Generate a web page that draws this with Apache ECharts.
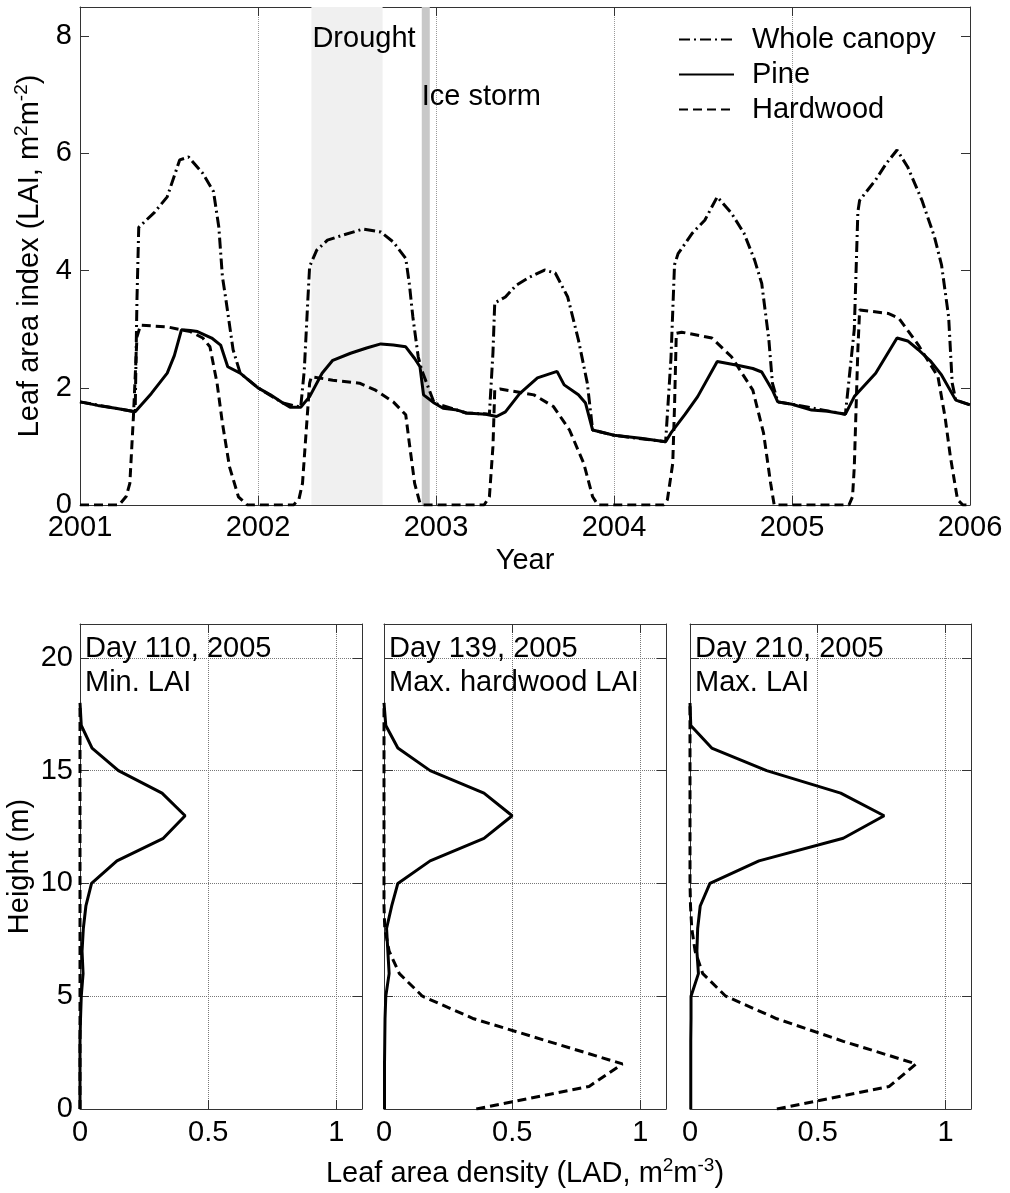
<!DOCTYPE html>
<html>
<head>
  <meta charset="utf-8">
  <title>LAI time series and LAD profiles</title>
  <style>
    html, body { margin: 0; padding: 0; background: #fff; }
    #main { width: 1010px; height: 1193px; }
  </style>
</head>
<body>
  <div id="main"></div>
  <script src="https://cdn.jsdelivr.net/npm/echarts@6/dist/echarts.min.js"></script>
  <script>
    // ---- top panel: LAI time series, [year, LAI] ----
    const wholeCanopy = [
      [2001.00, 1.76], [2001.31, 1.59], [2001.32, 3.5], [2001.33, 4.74], [2001.42, 5.0], [2001.49, 5.26],
      [2001.56, 5.89], [2001.61, 5.94], [2001.69, 5.66], [2001.75, 5.35], [2001.78, 4.74], [2001.80, 3.9],
      [2001.82, 3.5], [2001.86, 2.65], [2001.90, 2.25], [2002.00, 2.00], [2002.14, 1.74], [2002.24, 1.67],
      [2002.26, 2.3], [2002.28, 3.5], [2002.29, 4.07], [2002.33, 4.35], [2002.39, 4.52], [2002.48, 4.61],
      [2002.59, 4.71], [2002.69, 4.66], [2002.76, 4.49], [2002.83, 4.21], [2002.85, 3.78], [2002.87, 3.21],
      [2002.90, 2.53], [2002.92, 2.30], [2002.99, 1.74], [2003.17, 1.57], [2003.30, 1.55], [2003.32, 2.6],
      [2003.33, 3.45], [2003.39, 3.55], [2003.45, 3.75], [2003.52, 3.88], [2003.61, 4.01], [2003.67, 3.96],
      [2003.74, 3.55], [2003.80, 2.82], [2003.85, 2.08], [2003.88, 1.28], [2004.00, 1.19], [2004.29, 1.08],
      [2004.32, 2.5], [2004.34, 4.1], [2004.36, 4.29], [2004.44, 4.64], [2004.51, 4.86], [2004.58, 5.26],
      [2004.66, 4.98], [2004.73, 4.64], [2004.79, 4.18], [2004.83, 3.78], [2004.87, 2.82], [2004.89, 2.08],
      [2004.92, 1.76], [2005.00, 1.72], [2005.30, 1.55], [2005.35, 3.0], [2005.37, 5.0], [2005.38, 5.2],
      [2005.47, 5.55], [2005.53, 5.83], [2005.59, 6.06], [2005.65, 5.77], [2005.73, 5.2], [2005.80, 4.58],
      [2005.84, 4.1], [2005.88, 3.21], [2005.90, 2.08], [2005.92, 1.79], [2006.00, 1.71]
    ];
    const pineLAI = [
      [2001.00, 1.76], [2001.10, 1.70], [2001.20, 1.65], [2001.31, 1.59], [2001.40, 1.90], [2001.49, 2.25],
      [2001.53, 2.55], [2001.57, 2.99], [2001.62, 2.98], [2001.66, 2.96], [2001.74, 2.85], [2001.79, 2.73],
      [2001.83, 2.36], [2001.90, 2.25], [2002.00, 2.00], [2002.07, 1.88], [2002.14, 1.74], [2002.18, 1.67],
      [2002.24, 1.67], [2002.29, 1.85], [2002.36, 2.25], [2002.42, 2.47], [2002.52, 2.59], [2002.61, 2.68],
      [2002.69, 2.75], [2002.76, 2.73], [2002.83, 2.70], [2002.88, 2.50], [2002.91, 2.36], [2002.93, 1.88],
      [2002.99, 1.74], [2003.04, 1.65], [2003.12, 1.62], [2003.17, 1.57], [2003.28, 1.55], [2003.34, 1.51],
      [2003.39, 1.59], [2003.47, 1.90], [2003.57, 2.17], [2003.68, 2.28], [2003.72, 2.05], [2003.80, 1.88],
      [2003.84, 1.74], [2003.88, 1.28], [2004.00, 1.19], [2004.15, 1.14], [2004.29, 1.08], [2004.32, 1.23],
      [2004.40, 1.55], [2004.47, 1.85], [2004.58, 2.45], [2004.70, 2.38], [2004.78, 2.33], [2004.83, 2.27],
      [2004.89, 1.96], [2004.92, 1.76], [2005.00, 1.72], [2005.11, 1.62], [2005.20, 1.60], [2005.30, 1.55],
      [2005.35, 1.85], [2005.47, 2.25], [2005.59, 2.85], [2005.65, 2.80], [2005.71, 2.65], [2005.78, 2.45],
      [2005.84, 2.22], [2005.92, 1.79], [2006.00, 1.71]
    ];
    const hardwoodLAI = [
      [2001.00, 0], [2001.22, 0], [2001.26, 0.15], [2001.28, 0.37], [2001.30, 1.5], [2001.32, 2.87],
      [2001.34, 3.07], [2001.49, 3.04], [2001.62, 2.96], [2001.69, 2.85], [2001.73, 2.7], [2001.77, 2.08],
      [2001.80, 1.4], [2001.84, 0.65], [2001.89, 0.14], [2001.94, 0], [2002.20, 0], [2002.23, 0.1],
      [2002.25, 0.37], [2002.27, 1.23], [2002.29, 2.08], [2002.30, 2.19], [2002.42, 2.13], [2002.57, 2.08],
      [2002.66, 1.96], [2002.76, 1.76], [2002.83, 1.54], [2002.85, 1.06], [2002.88, 0.37], [2002.91, 0.03],
      [2002.93, 0], [2003.27, 0], [2003.30, 0.14], [2003.32, 1.0], [2003.33, 1.96], [2003.36, 1.98],
      [2003.55, 1.88], [2003.66, 1.68], [2003.75, 1.28], [2003.83, 0.71], [2003.88, 0.14], [2003.91, 0],
      [2004.28, 0], [2004.30, 0.09], [2004.33, 0.71], [2004.34, 1.68], [2004.35, 2.93], [2004.38, 2.95],
      [2004.55, 2.85], [2004.66, 2.53], [2004.78, 1.96], [2004.84, 1.23], [2004.88, 0.37], [2004.90, 0],
      [2005.32, 0], [2005.34, 0.14], [2005.35, 0.65], [2005.37, 2.65], [2005.38, 3.33], [2005.54, 3.27],
      [2005.60, 3.19], [2005.71, 2.73], [2005.82, 2.19], [2005.86, 1.5], [2005.89, 0.82], [2005.93, 0.09],
      [2005.96, 0], [2006.00, 0]
    ];
    const droughtPeriod = [2002.30, 2002.70];
    const iceStormPeriod = [2002.92, 2002.965];

    // ---- bottom panels: LAD profiles at heights 0..18 m ----
    const heights = [0, 1, 2, 3, 4, 5, 6, 7, 8, 9, 10, 11, 12, 13, 14, 15, 16, 17, 18];
    const pineDay110 = [0, 0, 0, 0, 0.002, 0.005, 0.012, 0.008, 0.013, 0.023, 0.045, 0.144, 0.325, 0.41, 0.32, 0.15, 0.047, 0.005, 0];
    const hardDay110 = [0, 0, 0, 0, 0, 0, 0, 0, 0, 0, 0, 0, 0, 0, 0, 0, 0, 0, 0];
    const pineDay139 = [0.002, 0.002, 0.002, 0.003, 0.004, 0.007, 0.02, 0.015, 0.01, 0.03, 0.054, 0.18, 0.39, 0.50, 0.39, 0.18, 0.054, 0.007, 0];
    const hardDay139 = [0.36, 0.80, 0.93, 0.64, 0.35, 0.15, 0.06, 0.02, 0.003, 0, 0, 0, 0, 0, 0, 0, 0, 0, 0];
    const pineDay210 = [0.003, 0.003, 0.003, 0.003, 0.004, 0.004, 0.033, 0.027, 0.03, 0.04, 0.078, 0.27, 0.60, 0.76, 0.59, 0.30, 0.085, 0.003, 0];
    const hardDay210 = [0.34, 0.78, 0.885, 0.60, 0.34, 0.14, 0.05, 0.02, 0.007, 0.002, 0, 0, 0, 0, 0, 0, 0, 0, 0];
    const panelTitles = ['Day 110, 2005\nMin. LAI', 'Day 139, 2005\nMax. hardwood LAI', 'Day 210, 2005\nMax. LAI'];

    const FONT = '"Liberation Sans", Arial, Helvetica, sans-serif';
    const FS = 29;
    const AXIS_COLOR = '#333';

    const SOLID = { color: '#000', width: 3, type: 'solid' };
    const DASHED = { color: '#000', width: 3, type: [9, 5] };
    const DASHDOT = { color: '#000', width: 3, type: [11, 4, 2, 4] };

    function profile(values) {
      return values.map(function (v, i) { return [v, heights[i]]; });
    }

    const grids = [
      { left: 80, top: 7, width: 890, height: 498 },
      { left: 80, top: 624, width: 282, height: 485 },
      { left: 384, top: 624, width: 282, height: 485 },
      { left: 690, top: 624, width: 281, height: 485 }
    ].map(function (g) { return Object.assign({ outerBoundsMode: 'none', containLabel: false }, g); });

    function axis(gridIndex, position, range, interval, opts) {
      const main = position === 'bottom' || position === 'left';
      return Object.assign({
        type: 'value',
        gridIndex: gridIndex,
        position: position,
        min: range[0],
        max: range[1],
        interval: interval,
        axisLine: { show: true, onZero: false, lineStyle: { color: AXIS_COLOR, width: 1 } },
        axisTick: { show: true, inside: true, length: 9, lineStyle: { color: AXIS_COLOR, width: 1 } },
        axisLabel: {
          show: main, showMaxLabel: false, margin: 8,
          fontSize: FS, fontFamily: FONT, color: '#000'
        },
        splitLine: { show: false },
        nameTextStyle: { fontSize: FS, fontFamily: FONT, color: '#000' }
      }, opts || {});
    }

    // superscripts: small text pinned to the top of a taller line
    const supRich = {
      n: { fontSize: FS, fontFamily: FONT, color: '#000', lineHeight: 36 },
      s: { fontSize: 19, fontFamily: FONT, color: '#000', verticalAlign: 'top', lineHeight: 8 }
    };

    const xAxes = [
      axis(0, 'bottom', [2001, 2006], 1, {
        axisLabel: { margin: 8, fontSize: FS, fontFamily: FONT, color: '#000', formatter: function (v) { return String(v); } },
        splitLine: { show: true, lineStyle: { color: '#999', type: 'dotted', width: 1 } },
        name: 'Year', nameLocation: 'middle', nameGap: 41
      }),
      axis(0, 'top', [2001, 2006], 1)
    ];
    const yAxes = [
      axis(0, 'left', [0, 8.5], 2, {
        name: '{n|Leaf area index (LAI, m}{s|2}{n|m}{s|-2}{n|)}',
        nameLocation: 'middle', nameGap: 27,
        nameTextStyle: { rich: supRich }
      }),
      axis(0, 'right', [0, 8.5], 2)
    ];
    for (let p = 1; p <= 3; p++) {
      const grid = { show: true, lineStyle: { color: '#777', type: 'dotted', width: 1 } };
      const xb = axis(p, 'bottom', [0, 1.1], 0.5, { splitLine: grid });
      xb.axisLabel.margin = 9;
      if (p === 2) {
        xb.name = '{n|Leaf area density (LAD, m}{s|2}{n|m}{s|-3}{n|)}';
        xb.nameLocation = 'middle';
        xb.nameGap = 47;
        xb.nameTextStyle = { rich: supRich };
      }
      xAxes.push(xb, axis(p, 'top', [0, 1.1], 0.5));
      const yl = axis(p, 'left', [0, 21.5], 5, { splitLine: grid });
      yl.axisLabel.show = p === 1;
      yl.axisLabel.margin = 7;
      if (p === 1) {
        yl.name = 'Height (m)';
        yl.nameLocation = 'middle';
        yl.nameGap = 46;
      }
      yAxes.push(yl, axis(p, 'right', [0, 21.5], 5));
    }

    const areaLabel = { show: true, position: 'insideTopLeft', distance: 0, fontSize: FS, fontFamily: FONT, color: '#000' };

    const series = [
      {
        name: 'periods', type: 'line', xAxisIndex: 0, yAxisIndex: 0, data: [], z: 1, silent: true,
        markArea: {
          silent: true,
          data: [
            [{ name: 'Drought', xAxis: droughtPeriod[0], itemStyle: { color: '#f0f0f0', opacity: 1 },
               label: Object.assign({}, areaLabel, { offset: [1, 17] }) },
             { xAxis: droughtPeriod[1] }],
            [{ name: 'Ice storm', xAxis: iceStormPeriod[0], itemStyle: { color: '#c8c8c8', opacity: 1 },
               label: Object.assign({}, areaLabel, { offset: [0, 75] }) },
             { xAxis: iceStormPeriod[1] }]
          ]
        }
      },
      { name: 'Whole canopy', type: 'line', xAxisIndex: 0, yAxisIndex: 0, data: wholeCanopy,
        symbol: 'none', lineStyle: DASHDOT, itemStyle: { color: '#000' }, z: 3 },
      { name: 'Hardwood', type: 'line', xAxisIndex: 0, yAxisIndex: 0, data: hardwoodLAI,
        symbol: 'none', lineStyle: DASHED, itemStyle: { color: '#000' }, z: 4 },
      { name: 'Pine', type: 'line', xAxisIndex: 0, yAxisIndex: 0, data: pineLAI,
        symbol: 'none', lineStyle: SOLID, itemStyle: { color: '#000' }, z: 5 }
    ];

    const profiles = [[pineDay110, hardDay110], [pineDay139, hardDay139], [pineDay210, hardDay210]];
    profiles.forEach(function (pair, i) {
      const axisIdx = 2 + i * 2;
      series.push(
        { name: 'Hardwood', type: 'line', xAxisIndex: axisIdx, yAxisIndex: axisIdx, data: profile(pair[1]),
          symbol: 'none', lineStyle: DASHED, itemStyle: { color: '#000' }, z: 4 },
        { name: 'Pine', type: 'line', xAxisIndex: axisIdx, yAxisIndex: axisIdx, data: profile(pair[0]),
          symbol: 'none', lineStyle: SOLID, itemStyle: { color: '#000' }, z: 5 }
      );
    });

    const titles = panelTitles.map(function (t, i) {
      return {
        text: t, left: grids[i + 1].left + 5, top: 632, padding: 0,
        textStyle: { fontSize: FS, fontFamily: FONT, fontWeight: 'normal', color: '#000', lineHeight: 34 }
      };
    });

    const chart = echarts.init(document.getElementById('main'), null, { renderer: 'canvas' });
    chart.setOption({
      animation: false,
      backgroundColor: '#fff',
      textStyle: { fontFamily: FONT },
      title: titles,
      legend: {
        orient: 'vertical', left: 678, top: 25, padding: 0,
        itemWidth: 55, itemHeight: 12, itemGap: 6,
        selectedMode: false,
        // line sample only, no marker dot
        itemStyle: { opacity: 0, color: 'transparent', borderWidth: 0 },
        data: ['Whole canopy', 'Pine', 'Hardwood'],
        textStyle: { fontSize: FS, fontFamily: FONT, color: '#000', padding: [0, 0, 0, 13] }
      },
      grid: grids,
      xAxis: xAxes,
      yAxis: yAxes,
      series: series
    });
  </script>
</body>
</html>
